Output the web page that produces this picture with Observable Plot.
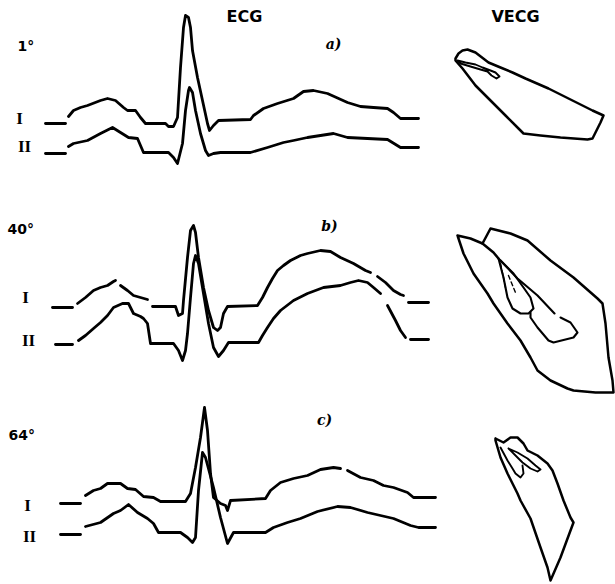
<!DOCTYPE html>
<html><head><meta charset="utf-8">
<script src="https://cdn.jsdelivr.net/npm/d3@7"></script>
<script src="https://cdn.jsdelivr.net/npm/@observablehq/plot@0.6"></script>
<style>html,body{margin:0;padding:0;background:#fff;}</style>
</head><body><div id="chart"></div>
<script>
// ---- data ----
const headers = ["ECG", "VECG"];
const panels = ["a)", "b)", "c)"];
const angles = ["1°", "40°", "64°"];
const leads = ["I", "II"];

// ECG traces: [time, amplitude]; null = pen lift
const ecgA_I = [[45,0],[65,0],null,[68,7],[73,13],[80,16],[87,18],[100,23],[107,25],[115,23],[123,16],[127,13],[135,13],[140,6],[145,0],[165,0],[168,-3],[173,-3],[177,6],[180,56],[183,96],[185,108],[188,106],[190,96],[192,73],[197,46],[202,23],[207,0],[209,-7],[213,-2],[218,3],[250,4],[253,8],[263,15],[277,20],[293,25],[303,32],[313,33],[327,30],[347,21],[360,17],[373,16],[387,15],[393,11],[400,5],[418,5]];
const ecgA_II = [[45,0],[65,0],null,[68,7],[73,10],[87,13],[100,20],[112,26],[120,21],[128,16],[137,15],[143,1],[168,1],[173,-4],[177,-10],[182,10],[185,43],[188,63],[189,66],[192,61],[195,43],[200,20],[205,3],[208,-2],[213,0],[220,1],[250,1],[267,6],[283,11],[293,13],[307,16],[320,18],[333,20],[347,16],[367,15],[387,14],[400,6],[418,6]];
const ecgB_I = [[52,0],[72,0],null,[77,4],[85,10],[93,17],[100,20],[107,22],[113,26],[115,27],null,[120,22],[127,17],[133,12],[140,10],[147,8],null,[152,1],[175,1],[178,-8],[182,-6],[183,7],[187,50],[190,77],[193,82],[195,75],[198,50],[203,20],[208,-3],[213,-20],[217,-23],[220,-20],[223,-6],[227,1],[257,2],[262,10],[267,20],[272,29],[277,37],[283,42],[290,47],[300,52],[307,54],[320,57],[330,56],[340,50],[353,44],[365,37],[370,35],null,[377,31],[385,25],[393,17],[400,13],[403,12],null,[408,5],[428,5]];
const ecgB_II = [[55,0],[72,0],null,[78,4],[85,9],[93,16],[100,22],[107,29],[113,37],[122,41],[128,41],[133,31],[140,28],[143,26],[147,21],[150,1],[173,1],[178,-6],[182,-16],[185,-6],[187,11],[190,47],[193,81],[195,89],[198,81],[203,51],[208,21],[213,-3],[218,-12],[223,-6],[228,2],[258,2],[262,9],[267,17],[273,26],[280,34],[293,44],[307,51],[323,57],[340,59],[350,62],[358,64],[367,62],[373,57],[380,51],null,[387,39],[395,24],[400,14],[405,7],null,[410,5],[428,5]];
const ecgC_I = [[60,0],[80,0],null,[85,8],[93,13],[100,15],[107,20],[120,20],[127,15],[135,14],[143,7],[153,6],[160,2],[185,2],[190,10],[195,36],[200,66],[204,96],[207,73],[210,30],[213,6],[220,0],[225,-2],[227,-7],[230,3],[265,5],[270,13],[280,21],[293,25],[307,28],[320,34],[333,36],[340,35],null,[347,33],[360,26],[373,23],[383,18],[393,16],[407,11],[413,6],[435,6]];
const ecgC_II = [[60,0],[80,0],null,[85,8],[100,12],[113,21],[120,24],[128,30],[137,22],[147,16],[153,11],[158,2],[180,2],[187,-3],[192,-8],[195,-3],[198,44],[202,82],[205,77],[213,47],[220,17],[227,-9],[233,2],[265,2],[273,7],[287,12],[300,16],[317,23],[337,28],[350,27],[367,22],[380,19],[393,16],[410,9],[418,7],[435,7]];

// VECG loops: [dx, dy] from loop origin
const vecgA_outer = [[0,0],[3,-5],[7,-8],[12,-9],[20,-6],[33,4],[45,9],[57,14],[70,20],[93,30],[117,42],[137,52],[148,57],[145,64],[141,72],[137,80],[132,81],[105,79],[85,77],[68,75],[63,70],[50,57],[37,44],[20,27],[7,10],[0,2],[0,0]];
const vecgA_inner = [[2,2],[10,4],[20,6],[27,9],[35,12],[40,14],[44,18],[41,20],[36,17],[32,13],[25,11],[15,8],[5,5],[2,2]];
const vecgB_outer = [[0,0],[13,3],[25,8],[33,-7],[53,-2],[70,5],[93,25],[116,42],[140,63],[145,68],[148,88],[151,122],[155,145],[156,157],[138,157],[116,155],[110,153],[93,145],[80,135],[73,122],[63,105],[50,88],[36,68],[30,58],[16,38],[6,18],[0,0]];
const vecgB_stem = [[25,8],[36,17],[41,23]];
const vecgB_drop = [[41,23],[46,42],[50,62],[55,73],[63,78],[71,78],[76,73],[73,62],[66,52],[56,38],[41,23]];
const vecgB_poly = [[43,25],[60,43],[80,60],[97,78],null,[103,82],[113,87],[120,97],[116,102],[96,107],[91,105],[80,92],[73,82],[73,77]];
const vecgB_dash = [[43,28],[48,52],null,[51,40],[58,57]];
const vecgC_outer = [[0,0],[8,4],[15,-1],[22,-1],[28,5],[32,12],[42,17],[52,25],[57,32],[62,45],[68,62],[75,79],[78,84],[75,92],[65,119],[55,142],[52,129],[45,109],[35,80],[25,62],[22,55],[12,35],[5,19],[0,2],[0,0]];
const vecgC_inner1 = [[5,9],[12,22],[17,30],[20,35],[25,39],[28,35],[27,27]];
const vecgC_inner2 = [[13,10],[22,14],[32,20],[40,27],[45,31],[42,33],[35,30],[27,24],[22,19],[13,10]];

// ---- layout ----
const ecgTraces = [
  {pts: ecgA_I, base: 123}, {pts: ecgA_II, base: 153},
  {pts: ecgB_I, base: 307}, {pts: ecgB_II, base: 344},
  {pts: ecgC_I, base: 503}, {pts: ecgC_II, base: 534}
];
const vecgShapes = [
  {pts: vecgA_outer, o: [455,58]}, {pts: vecgA_inner, o: [455,58], w: 1.9},
  {pts: vecgB_outer, o: [457,235]}, {pts: vecgB_stem, o: [457,235]},
  {pts: vecgB_drop, o: [457,235], w: 2.1}, {pts: vecgB_poly, o: [457,235], w: 2.1},
  {pts: vecgC_outer, o: [495,438]}, {pts: vecgC_inner1, o: [495,438], w: 1.9},
  {pts: vecgC_inner2, o: [495,438], w: 1.9}
];

let seg = 0;
const ecgRows = [];
for (const t of ecgTraces) {
  seg++;
  for (const p of t.pts) {
    if (p === null) { seg++; continue; }
    ecgRows.push({x: p[0], y: t.base - p[1], seg});
  }
}
const vecgRows = [];
for (const s of vecgShapes) {
  seg++;
  for (const p of s.pts) {
    if (p === null) { seg++; continue; }
    vecgRows.push({x: s.o[0] + p[0], y: s.o[1] + p[1], seg, w: s.w || 2.5});
  }
}
const dashRows = [];
for (const p of vecgB_dash) {
  if (p === null) { seg++; continue; }
  dashRows.push({x: 457 + p[0], y: 235 + p[1], seg});
}

const headerPos = [[244,16],[515,16]];
const anglePos = [[17,46],[7,229],[8,435]];
const panelPos = [[333,44],[329,226],[324,420]];
const leadPos = [[[19,118],[24,146]],[[25,297],[28,340]],[[27,505],[29,536]]];

const headerRows = headers.map((t,i) => ({t, x: headerPos[i][0], y: headerPos[i][1]}));
const angleRows = angles.map((t,i) => ({t, x: anglePos[i][0], y: anglePos[i][1]}));
const panelRows = panels.map((t,i) => ({t, x: panelPos[i][0], y: panelPos[i][1]}));
const leadRows = [];
panels.forEach((_, i) => leads.forEach((l, j) => leadRows.push({t: l, x: leadPos[i][j][0], y: leadPos[i][j][1]})));

const chart = Plot.plot({
  width: 615, height: 584,
  margin: 0,
  x: {domain: [0, 615], axis: null},
  y: {domain: [0, 584], reverse: true, axis: null},
  style: {background: "#fff"},
  marks: [
    Plot.line(ecgRows, {x: "x", y: "y", z: "seg", stroke: "#000", strokeWidth: 2.8, strokeLinejoin: "round", strokeLinecap: "round"}),
    Plot.line(vecgRows, {x: "x", y: "y", z: "seg", stroke: "#000", strokeWidth: "w", strokeLinejoin: "round", strokeLinecap: "round"}),
    Plot.line(dashRows, {x: "x", y: "y", z: "seg", stroke: "#000", strokeWidth: 1.4, strokeDasharray: "4,3"}),
    Plot.text(headerRows, {x: "x", y: "y", text: "t", fontSize: 16, fontWeight: "bold", fontFamily: "DejaVu Sans", fill: "#000"}),
    Plot.text(angleRows, {x: "x", y: "y", text: "t", textAnchor: "start", fontSize: 14, fontWeight: "bold", fontFamily: "DejaVu Sans", fill: "#000"}),
    Plot.text(panelRows, {x: "x", y: "y", text: "t", fontSize: 14, fontStyle: "italic", fontWeight: "bold", fontFamily: "DejaVu Serif", fill: "#000"}),
    Plot.text(leadRows, {x: "x", y: "y", text: "t", fontSize: 17, fontWeight: "bold", fontFamily: "Liberation Serif", fill: "#000"})
  ]
});
document.getElementById("chart").appendChild(chart);
</script>
</body></html>
